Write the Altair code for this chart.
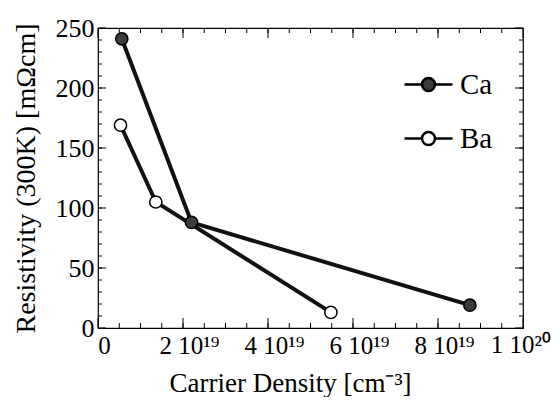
import altair as alt
import pandas as pd

# data (x in units of 1e19 cm^-3, y in mOhm cm)
series_names = ["Ca", "Ba"]
ca_x = [0.56, 2.2, 8.75]
ca_y = [241, 88, 19]
ba_x = [0.53, 1.36, 5.48]
ba_y = [169, 105, 13]

x_major = [0, 2, 4, 6, 8, 10]
x_labels = ["0", "2 10¹⁹", "4 10¹⁹", "6 10¹⁹", "8 10¹⁹", "1 10²⁰"]
x_minor = [i * 0.5 for i in range(1, 20)]
y_major = [0, 50, 100, 150, 200, 250]
y_minor = list(range(10, 250, 10))

FONT = "Liberation Serif"
W, H = 425, 300

df = pd.DataFrame({
    "x": ca_x + ba_x,
    "y": ca_y + ba_y,
    "series": ["Ca"] * len(ca_x) + ["Ba"] * len(ba_x),
})

# all but the last label go through the axis; the last one (at the right
# edge) is drawn as a right-aligned text so it stays inside the page
label_expr = ""
for v, l in zip(x_major[:-1], x_labels[:-1]):
    label_expr += f"datum.value == {v} ? '{l}' : "
label_expr += "''"
last_df = pd.DataFrame({"v": x_major[-1:], "label": x_labels[-1:]})

xs = alt.Scale(domain=[0, 10], nice=False, zero=False)
ys = alt.Scale(domain=[0, 250], nice=False, zero=False)

common = dict(ticks=False, domain=False, grid=False, labelFlush=False,
              labelOverlap=False, labelFont=FONT, labelColor="black",
              titleFont=FONT, titleFontWeight="normal", titleColor="black")

base = alt.Chart(df)

lines = base.mark_line(stroke="#111", strokeWidth=4).encode(
    x=alt.X("x:Q", scale=xs, title="Carrier Density [cm⁻³]",
            axis=alt.Axis(values=x_major, labelExpr=label_expr, labelPadding=5,
                          labelOffset=6, labelFontSize=25,
                          titleFontSize=27, titleX=192, titleY=63,
                          titleBaseline="alphabetic", **common)),
    y=alt.Y("y:Q", scale=ys, title="Resistivity (300K) [mΩcm]",
            axis=alt.Axis(values=y_major, labelPadding=4, labelFontSize=26,
                          titleFontSize=28, titleX=-72, titleY=150,
                          titleAlign="center", titleBaseline="middle", **common)),
    detail="series:N",
    order="x:Q",
)

last_label = alt.Chart(last_df).mark_text(
    align="right", baseline="top", dx=28, dy=5, font=FONT, fontSize=25, color="black"
).encode(x=alt.X("v:Q", scale=xs), y=alt.value(H), text="label:N")

legend_path = ("M-1,0L-0.27,0M0.27,0L1,0M-0.27,0A0.27,0.27,0,1,1,0.27,0"
               "A0.27,0.27,0,1,1,-0.27,0Z")

points = base.mark_point(filled=False, size=150, strokeWidth=1.5, opacity=1,
                         shape="circle", stroke="black").encode(
    x="x:Q",
    y="y:Q",
    fill=alt.Fill("series:N",
                  scale=alt.Scale(domain=series_names, range=["#3c3c3c", "white"]),
                  legend=alt.Legend(title=None, orient="none", legendX=305, legendY=31,
                                    symbolType=legend_path, symbolSize=2304,
                                    symbolStrokeColor="black", symbolStrokeWidth=2.5,
                                    symbolOpacity=1,
                                    labelFont=FONT, labelFontSize=29, labelColor="black",
                                    labelOffset=6, rowPadding=13, padding=0)),
)

def ticks_x(vals, length):
    d = pd.DataFrame({"v": vals})
    c = alt.Chart(d)
    bot = c.mark_rule(color="black", strokeWidth=1).encode(
        x=alt.X("v:Q", scale=xs), y=alt.value(H), y2=alt.value(H - length))
    top = c.mark_rule(color="black", strokeWidth=1).encode(
        x=alt.X("v:Q", scale=xs), y=alt.value(0), y2=alt.value(length))
    return [bot, top]

def ticks_y(vals, length):
    d = pd.DataFrame({"v": vals})
    c = alt.Chart(d)
    left = c.mark_rule(color="black", strokeWidth=1).encode(
        y=alt.Y("v:Q", scale=ys), x=alt.value(0), x2=alt.value(length))
    right = c.mark_rule(color="black", strokeWidth=1).encode(
        y=alt.Y("v:Q", scale=ys), x=alt.value(W), x2=alt.value(W - length))
    return [left, right]

layers = ([lines, points, last_label] + ticks_x(x_minor, 5) + ticks_x(x_major, 10) +
          ticks_y(y_minor, 4) + ticks_y(y_major, 8))

chart = alt.layer(*layers).properties(
    width=W, height=H,
    background="white",
    autosize=alt.AutoSizeParams(type="none"),
    padding={"left": 90, "top": 20, "right": 29, "bottom": 69},
).configure_view(
    stroke="black", strokeWidth=1.2
).configure_axis(**common)

chart.save("out.html", embed_options={"renderer": "svg", "actions": False})
